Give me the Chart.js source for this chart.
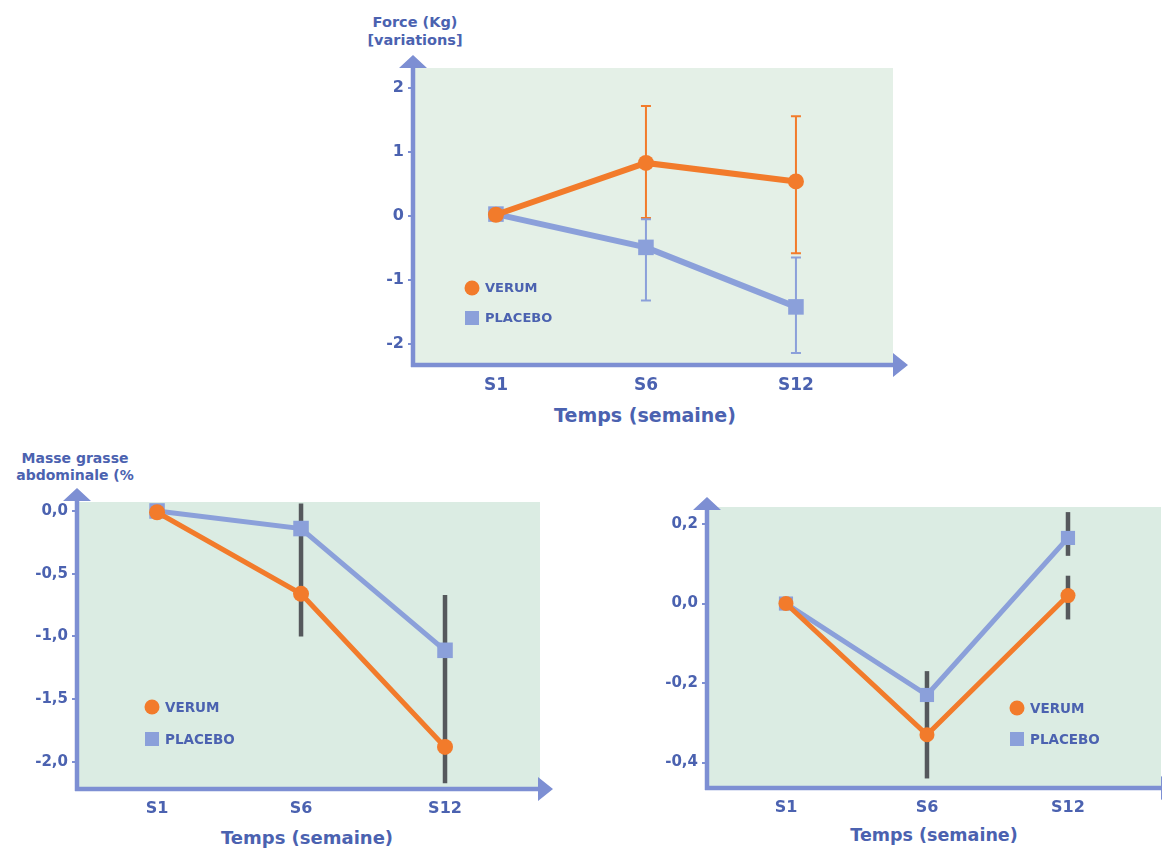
<!DOCTYPE html>
<html>
<head>
<meta charset="utf-8">
<script src="https://cdn.jsdelivr.net/npm/chart.js@4.4.1/dist/chart.umd.min.js"></script>
<style>
  html, body { margin: 0; width: 1162px; height: 848px; overflow: hidden; background: #fff; }
  body { position: relative; font-family: "DejaVu Sans", sans-serif; }
  canvas { position: absolute; }
  .title { position: absolute; color: #4b62b0; font-weight: 700; text-align: center; white-space: nowrap; }
</style>
</head>
<body>
<div class="title" style="left:335px; top:13px; width:160px; font-size:14.5px; line-height:18px;">Force (Kg)<br>[variations]</div>
<div class="title" style="left:0px; top:450px; width:150px; font-size:14px; line-height:17px;">Masse grasse<br>abdominale (%</div>
<div class="title" style="left:495px; top:403px; width:300px; font-size:19px; line-height:24px;">Temps (semaine)</div>
<div class="title" style="left:157px; top:826px; width:300px; font-size:18px; line-height:24px;">Temps (semaine)</div>
<div class="title" style="left:784px; top:823px; width:300px; font-size:17.5px; line-height:24px;">Temps (semaine)</div>

<canvas id="force-chart"></canvas>
<canvas id="fat-chart"></canvas>
<canvas id="third-chart"></canvas>

<script>
const weeks = ["S1", "S6", "S12"];
const seriesNames = ["VERUM", "PLACEBO"];

// Force (Kg) [variations]
const forceVerum = [0.02, 0.83, 0.54];
const forcePlacebo = [0.03, -0.49, -1.42];
const forceVerumErr = [null, [-0.03, 1.72], [-0.58, 1.56]];
const forcePlaceboErr = [null, [-1.32, -0.05], [-2.14, -0.65]];
const forceTicks = [-2, -1, 0, 1, 2];

// Masse grasse abdominale (%)
const fatVerum = [-0.01, -0.66, -1.88];
const fatPlacebo = [0, -0.14, -1.11];
const fatErr = [null, [-1.0, 0.06], [-2.17, -0.67]];
const fatTicks = [-2, -1.5, -1, -0.5, 0];

// third panel (no axis title)
const thirdVerum = [0, -0.33, 0.02];
const thirdPlacebo = [0, -0.23, 0.165];
const thirdVerumErr = [null, [-0.44, -0.17], [-0.04, 0.07]];
const thirdPlaceboErr = [null, null, [0.12, 0.23]];
const thirdTicks = [-0.4, -0.2, 0, 0.2];

const textColor = "#4b62b0";
const axisColor = "#7d8fd3";
const orange = "#f27b2b";
const blue = "#8ba0da";
const gray = "#55585c";
const fontFamily = "'DejaVu Sans', sans-serif";

const Y_WIDTH = 70;
const X_HEIGHT = 70;
const PAD = 24;

const decorPlugin = {
  id: "decor",
  beforeDraw(chart, args, opts) {
    const { ctx, chartArea: a } = chart;
    ctx.save();
    ctx.fillStyle = opts.panelColor;
    ctx.fillRect(a.left, a.top + opts.panelTop, a.right - opts.panelRight - a.left, a.bottom - a.top - opts.panelTop);
    ctx.restore();
  },
  beforeDatasetsDraw(chart, args, opts) {
    const { ctx, chartArea: a } = chart;
    const x = chart.scales.x;
    const y = chart.scales.y;

    // axes with arrow heads
    ctx.save();
    ctx.strokeStyle = axisColor;
    ctx.fillStyle = axisColor;
    ctx.lineWidth = 4.5;
    ctx.beginPath();
    ctx.moveTo(a.left - 2, a.bottom);
    ctx.lineTo(a.right - 14, a.bottom);
    ctx.moveTo(a.left, a.bottom + 2);
    ctx.lineTo(a.left, a.top + 12);
    ctx.stroke();
    ctx.beginPath();
    ctx.moveTo(a.right, a.bottom);
    ctx.lineTo(a.right - 15, a.bottom - 12);
    ctx.lineTo(a.right - 15, a.bottom + 12);
    ctx.closePath();
    ctx.moveTo(a.left, a.top);
    ctx.lineTo(a.left - 14, a.top + 13);
    ctx.lineTo(a.left + 14, a.top + 13);
    ctx.closePath();
    ctx.fill();
    ctx.restore();

    // error bars
    chart.data.datasets.forEach((ds) => {
      if (!ds.errorBars) return;
      ctx.save();
      ctx.strokeStyle = ds.errorColor;
      ctx.lineWidth = ds.errorWidth;
      ds.errorBars.forEach((bar, i) => {
        if (!bar) return;
        const px = x.getPixelForValue(i);
        const lo = y.getPixelForValue(bar[0]);
        const hi = y.getPixelForValue(bar[1]);
        ctx.beginPath();
        ctx.moveTo(px, lo);
        ctx.lineTo(px, hi);
        if (ds.errorCap) {
          ctx.moveTo(px - ds.errorCap, lo);
          ctx.lineTo(px + ds.errorCap, lo);
          ctx.moveTo(px - ds.errorCap, hi);
          ctx.lineTo(px + ds.errorCap, hi);
        }
        ctx.stroke();
      });
      ctx.restore();
    });
  },
  afterDraw(chart, args, opts) {
    const { ctx, chartArea: a } = chart;
    ctx.save();
    ctx.font = `700 ${opts.legendFont}px ${fontFamily}`;
    ctx.textBaseline = "middle";
    ctx.textAlign = "left";
    chart.data.datasets.forEach((ds, i) => {
      const cx = a.left + opts.legendX;
      const cy = a.top + opts.legendY + i * opts.legendGap;
      ctx.fillStyle = ds.backgroundColor;
      if (ds.pointStyle === "rect") {
        ctx.fillRect(cx - 7, cy - 7, 14, 14);
      } else {
        ctx.beginPath();
        ctx.arc(cx, cy, 7.5, 0, Math.PI * 2);
        ctx.fill();
      }
      ctx.fillStyle = textColor;
      ctx.fillText(ds.label, cx + 13, cy + 1);
    });
    ctx.restore();
  }
};

function makeChart(id, box, cfg) {
  const canvas = document.getElementById(id);
  canvas.width = box.right - box.left + Y_WIDTH + PAD;
  canvas.height = box.bottom - box.top + X_HEIGHT + PAD;
  canvas.style.left = `${box.left - Y_WIDTH}px`;
  canvas.style.top = `${box.top - PAD}px`;

  return new Chart(canvas, {
    type: "line",
    data: {
      datasets: cfg.datasets
    },
    options: {
      responsive: false,
      animation: false,
      layout: { padding: { top: PAD, right: PAD, left: 0, bottom: 0 } },
      plugins: {
        legend: { display: false },
        tooltip: { enabled: false },
        decor: cfg.decor
      },
      scales: {
        x: {
          type: "linear",
          bounds: "data",
          min: cfg.xRange[0],
          max: cfg.xRange[1],
          afterBuildTicks: (s) => { s.ticks = weeks.map((_, i) => ({ value: i })); },
          afterFit: (s) => { s.height = X_HEIGHT; },
          grid: { display: false, drawTicks: false },
          border: { display: false },
          ticks: {
            callback: (v) => weeks[v],
            color: textColor,
            font: { family: fontFamily, size: cfg.xFont, weight: "700" },
            padding: 10,
            maxRotation: 0,
            autoSkip: false
          }
        },
        y: {
          type: "linear",
          bounds: "data",
          min: cfg.yRange[0],
          max: cfg.yRange[1],
          afterBuildTicks: (s) => { s.ticks = cfg.yTicks.map((v) => ({ value: v })); },
          afterFit: (s) => { s.width = Y_WIDTH; },
          grid: { drawOnChartArea: false, drawTicks: true, tickLength: 5, color: axisColor, lineWidth: 2 },
          border: { display: false },
          ticks: {
            callback: cfg.yFormat,
            color: textColor,
            font: { family: fontFamily, size: cfg.yFont, weight: "700" },
            padding: 4
          }
        }
      }
    },
    plugins: [decorPlugin]
  });
}

function series(label, values, color, style, lineWidth, radius) {
  return {
    label,
    data: values.map((v, i) => ({ x: i, y: v })),
    borderColor: color,
    backgroundColor: color,
    borderWidth: lineWidth,
    pointStyle: style,
    pointRadius: radius,
    pointBorderWidth: 0,
    pointBackgroundColor: color,
    tension: 0
  };
}

const commaFormat = (v) => v.toFixed(1).replace(".", ",");

// top chart
const forceVerumSet = series(seriesNames[0], forceVerum, orange, "circle", 6, 8);
forceVerumSet.errorBars = forceVerumErr;
forceVerumSet.errorColor = orange;
forceVerumSet.errorWidth = 2;
forceVerumSet.errorCap = 5;
const forcePlaceboSet = series(seriesNames[1], forcePlacebo, blue, "rect", 6, 11);
forcePlaceboSet.errorBars = forcePlaceboErr;
forcePlaceboSet.errorColor = blue;
forcePlaceboSet.errorWidth = 2;
forcePlaceboSet.errorCap = 5;

makeChart("force-chart", { left: 413, top: 55, right: 908, bottom: 365 }, {
  datasets: [forceVerumSet, forcePlaceboSet],
  xRange: [-0.553, 2.747],
  yRange: [-2.328, 2.516],
  yTicks: forceTicks,
  yFormat: (v) => String(v),
  xFont: 17,
  yFont: 16,
  decor: { panelColor: "#e4f0e7", panelTop: 13, panelRight: 15, legendX: 59, legendY: 233, legendGap: 30, legendFont: 13 }
});

// bottom left chart
const fatVerumSet = series(seriesNames[0], fatVerum, orange, "circle", 5, 8);
const fatPlaceboSet = series(seriesNames[1], fatPlacebo, blue, "rect", 5, 11);
fatPlaceboSet.errorBars = fatErr;
fatPlaceboSet.errorColor = gray;
fatPlaceboSet.errorWidth = 4.5;

makeChart("fat-chart", { left: 77, top: 488, right: 553, bottom: 789 }, {
  datasets: [fatVerumSet, fatPlaceboSet],
  xRange: [-0.556, 2.75],
  yRange: [-2.215, 0.183],
  yTicks: fatTicks,
  yFormat: commaFormat,
  xFont: 16,
  yFont: 15,
  decor: { panelColor: "#dbece3", panelTop: 14, panelRight: 13, legendX: 75, legendY: 219, legendGap: 32, legendFont: 13.5 }
});

// bottom right chart
const thirdVerumSet = series(seriesNames[0], thirdVerum, orange, "circle", 5, 7.5);
thirdVerumSet.errorBars = thirdVerumErr;
thirdVerumSet.errorColor = gray;
thirdVerumSet.errorWidth = 4.5;
const thirdPlaceboSet = series(seriesNames[1], thirdPlacebo, blue, "rect", 5, 10);
thirdPlaceboSet.errorBars = thirdPlaceboErr;
thirdPlaceboSet.errorColor = gray;
thirdPlaceboSet.errorWidth = 4.5;

makeChart("third-chart", { left: 707, top: 497, right: 1176, bottom: 788 }, {
  datasets: [thirdVerumSet, thirdPlaceboSet],
  xRange: [-0.560, 2.766],
  yRange: [-0.464, 0.268],
  yTicks: thirdTicks,
  yFormat: commaFormat,
  xFont: 16,
  yFont: 15,
  decor: { panelColor: "#dbece3", panelTop: 10, panelRight: 15, legendX: 310, legendY: 211, legendGap: 31, legendFont: 13.5 }
});
</script>
</body>
</html>
